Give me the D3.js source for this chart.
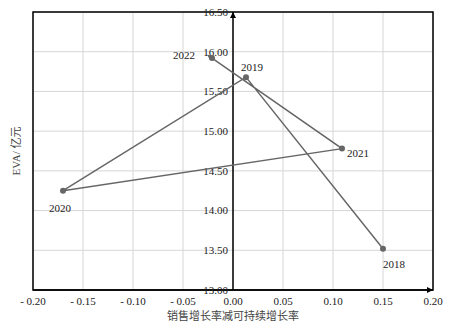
<!DOCTYPE html>
<html>
<head>
<meta charset="utf-8">
<script src="https://cdn.jsdelivr.net/npm/d3@7"></script>
<style>
  body { margin: 0; background: #fff; }
</style>
</head>
<body>
<div id="chart"></div>
<script>
// data
var years = ["2018", "2019", "2020", "2021", "2022"];
var gapRate = [0.150, 0.013, -0.170, 0.109, -0.021];
var eva = [13.52, 15.68, 14.25, 14.78, 15.92];
var xTicks = [-0.20, -0.15, -0.10, -0.05, 0.00, 0.05, 0.10, 0.15, 0.20];
var yTicks = [13.00, 13.50, 14.00, 14.50, 15.00, 15.50, 16.00, 16.50];
// label offsets per year [dx, dy]
var labelPos = [[11, 15], [6, -10], [-3, 17], [16, 5], [-28, -3]];

var margin = {top: 12, right: 17, bottom: 34, left: 33},
    W = 450, H = 324,
    width = W - margin.left - margin.right,
    height = H - margin.top - margin.bottom;

var x = d3.scaleLinear().domain([-0.20, 0.20]).range([0, width]);
var y = d3.scaleLinear().domain([13.00, 16.50]).range([height, 0]);

var svg = d3.select("#chart").append("svg")
    .attr("width", W)
    .attr("height", H)
    .attr("font-family", "'Liberation Serif', 'Noto Sans CJK SC'")
    .attr("font-size", 11)
    .attr("fill", "#222");

var defs = svg.append("defs");
defs.append("marker")
    .attr("id", "axArrow")
    .attr("viewBox", "0 0 10 10")
    .attr("refX", 10).attr("refY", 5)
    .attr("markerWidth", 4).attr("markerHeight", 4)
    .attr("markerUnits", "strokeWidth")
    .attr("orient", "auto")
    .append("path").attr("d", "M0,0L10,5L0,10z").attr("fill", "#000");
defs.append("marker")
    .attr("id", "lnArrow")
    .attr("viewBox", "0 0 10 10")
    .attr("refX", 0).attr("refY", 5)
    .attr("markerWidth", 4).attr("markerHeight", 4)
    .attr("markerUnits", "strokeWidth")
    .attr("orient", "auto")
    .append("path").attr("d", "M0,0L10,5L0,10z").attr("fill", "#666");

var g = svg.append("g")
    .attr("transform", "translate(" + margin.left + "," + margin.top + ")");

// grid
g.append("g").selectAll("line")
    .data(xTicks).enter().append("line")
    .attr("x1", d => x(d)).attr("x2", d => x(d))
    .attr("y1", 0).attr("y2", height)
    .attr("stroke", "#d6d6d6").attr("stroke-width", 1);
g.append("g").selectAll("line")
    .data(yTicks).enter().append("line")
    .attr("x1", 0).attr("x2", width)
    .attr("y1", d => y(d)).attr("y2", d => y(d))
    .attr("stroke", "#d6d6d6").attr("stroke-width", 1);

// frame
g.append("rect")
    .attr("width", width).attr("height", height)
    .attr("fill", "none").attr("stroke", "#000").attr("stroke-width", 1.5);

// axes through zero / bottom with arrows
g.append("line")
    .attr("x1", x(0)).attr("x2", x(0))
    .attr("y1", height).attr("y2", 0)
    .attr("stroke", "#000").attr("stroke-width", 1.5)
    .attr("marker-end", "url(#axArrow)");
g.append("line")
    .attr("x1", 0).attr("x2", width)
    .attr("y1", height).attr("y2", height)
    .attr("stroke", "#000").attr("stroke-width", 1.5)
    .attr("marker-end", "url(#axArrow)");

// y tick labels beside the zero axis
g.append("g").selectAll("text")
    .data(yTicks).enter().append("text")
    .attr("x", x(0) - 5)
    .attr("y", d => y(d))
    .attr("dy", "0.35em")
    .attr("text-anchor", "end")
    .text(d => d.toFixed(2));

// x tick labels
var fmtX = d => (d < 0 ? "- " : "") + Math.abs(d).toFixed(2);
g.append("g").selectAll("text")
    .data(xTicks).enter().append("text")
    .attr("x", d => x(d))
    .attr("y", height + 15)
    .attr("text-anchor", "middle")
    .text(fmtX);

// axis titles
g.append("text")
    .attr("x", x(0))
    .attr("y", height + 30)
    .attr("text-anchor", "middle")
    .attr("fill", "#444")
    .text("销售增长率减可持续增长率");
g.append("text")
    .attr("transform", "translate(" + (-13) + "," + (y(14.75)) + ") rotate(-90)")
    .attr("text-anchor", "middle")
    .attr("fill", "#444")
    .text("EVA/ 亿元");

// path through the years
var pts = years.map((yr, i) => ({year: yr, gx: gapRate[i], ev: eva[i], off: labelPos[i]}));
var line = d3.line().x(d => x(d.gx)).y(d => y(d.ev));

g.append("path")
    .datum(pts)
    .attr("d", line)
    .attr("fill", "none")
    .attr("stroke", "#666")
    .attr("stroke-width", 1.5)
    .attr("marker-end", "url(#lnArrow)");

g.selectAll(".pt")
    .data(pts).enter().append("circle")
    .attr("class", "pt")
    .attr("cx", d => x(d.gx)).attr("cy", d => y(d.ev))
    .attr("r", 3)
    .attr("fill", "#666");

g.selectAll(".lbl")
    .data(pts).enter().append("text")
    .attr("class", "lbl")
    .attr("x", d => x(d.gx) + d.off[0])
    .attr("y", d => y(d.ev) + d.off[1])
    .attr("dy", "0.35em")
    .attr("text-anchor", "middle")
    .text(d => d.year);
</script>
</body>
</html>
